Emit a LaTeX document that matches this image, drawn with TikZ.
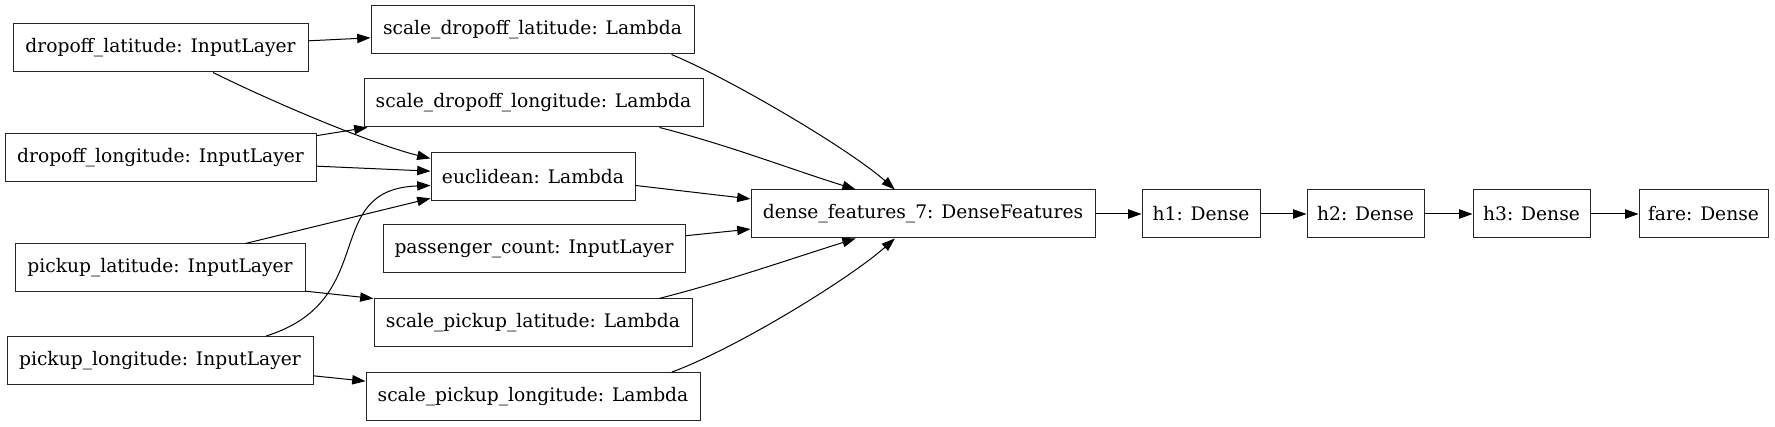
\documentclass[tikz,border=0pt]{standalone}
\usepackage{fontspec}
\setmainfont{DejaVu Serif}
\usepackage{tikz}
\usetikzlibrary{arrows.meta}

\begin{document}
\begin{tikzpicture}[
x=0.75pt, y=-0.75pt,
font=\fontsize{14}{16}\selectfont,
layer/.style={draw=black!85, line width=0.75pt, rectangle, minimum height=36pt, inner xsep=2pt},
flow/.style={-{Triangle[length=10pt,width=7pt]}, line width=0.75pt}
]
    % page frame
    \useasboundingbox (0,0) rectangle (1775,427);

    % inputs
    \node[layer, minimum width=221.25pt] (dlat) at (160.5,48) {dropoff\_latitude: InputLayer};
    \node[layer, minimum width=233.25pt] (dlon) at (160.5,157.5) {dropoff\_longitude: InputLayer};
    \node[layer, minimum width=217.5pt] (plat) at (160,268) {pickup\_latitude: InputLayer};
    \node[layer, minimum width=229.5pt] (plon) at (160,360.5) {pickup\_longitude: InputLayer};

    % lambdas
    \node[layer, minimum width=242.25pt] (sdlat) at (532.5,30) {scale\_dropoff\_latitude: Lambda};
    \node[layer, minimum width=254.25pt] (sdlon) at (533.5,103) {scale\_dropoff\_longitude: Lambda};
    \node[layer, minimum width=153pt] (eucl) at (533,176.5) {euclidean: Lambda};
    \node[layer, minimum width=226.5pt] (pcount) at (534,249) {passenger\_count: InputLayer};
    \node[layer, minimum width=238.5pt] (splat) at (533,323) {scale\_pickup\_latitude: Lambda};
    \node[layer, minimum width=250.5pt] (splon) at (533,396.5) {scale\_pickup\_longitude: Lambda};

    % dense part
    \node[layer, minimum width=258pt] (dense) at (923,214) {dense\_features\_7: DenseFeatures};
    \node[layer, minimum width=88.5pt] (h1) at (1201,214) {h1: Dense};
    \node[layer, minimum width=87.75pt] (h2) at (1365.5,214) {h2: Dense};
    \node[layer, minimum width=87.75pt] (h3) at (1531.5,214) {h3: Dense};
    \node[layer, minimum width=96.75pt] (fare) at (1703.5,214) {fare: Dense};

    % input edges
    \draw[flow] (dlat) -- (sdlat);
    \draw[flow] (dlat.-25) .. controls +(75,37) and +(-50,-12) .. (eucl.170);
    \draw[flow] ([yshift=-2pt]dlon.north east) -- ([xshift=3pt]sdlon.south west);
    \draw[flow] ([yshift=-6.5pt]dlon.east) -- ([yshift=4pt]eucl.west);
    \draw[flow] (plat.16) -- (eucl.192);
    \draw[flow] ([yshift=1pt]plat.south east) -- (splat.north west);
    \draw[flow] (plon.13) .. controls +(115,-36) and +(-111,4) .. (eucl.185);
    \draw[flow] ([yshift=-11.5pt]plon.east) -- ([yshift=11.5pt]splon.west);

    % into dense features
    \draw[flow] (sdlat.-10) .. controls +(60,25) and +(-45,-40) .. (dense.139);
    \draw[flow] (sdlon.-11) .. controls +(70,18) and +(-70,-22) .. (dense.160);
    \draw[flow] (eucl.-5) -- (dense.175);
    \draw[flow] (pcount.5) -- (dense.185);
    \draw[flow] (splat.11) .. controls +(70,-18) and +(-70,22) .. (dense.200);
    \draw[flow] (splon.10) .. controls +(65,-24) and +(-45,40) .. (dense.221);

    % chain
    \draw[flow] (dense) -- (h1);
    \draw[flow] (h1) -- (h2);
    \draw[flow] (h2) -- (h3);
    \draw[flow] (h3) -- (fare);

\end{tikzpicture}
\end{document}
